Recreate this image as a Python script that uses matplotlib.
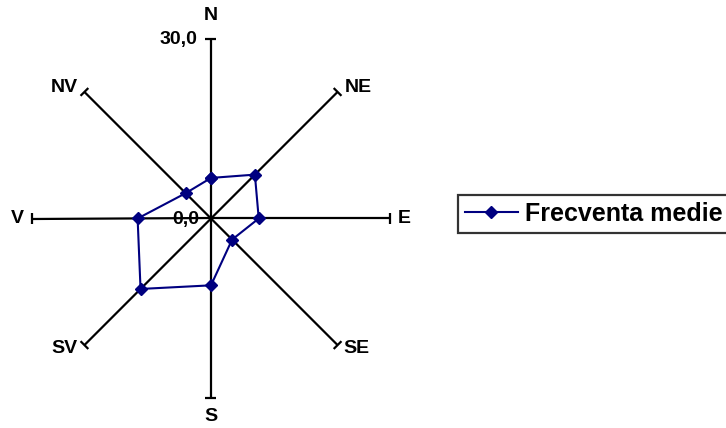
import numpy as np
import matplotlib.pyplot as plt

# directii si frecvente medii
directii = ['N', 'NE', 'E', 'SE', 'S', 'SV', 'V', 'NV']
frecventa = [6.8, 10.4, 8.0, 5.0, 11.2, 16.7, 12.3, 6.0]
rmax = 30.0
serie = 'Frecventa medie'

plt.rcParams['font.family'] = ['Liberation Sans', 'DejaVu Sans']

W, H = 726, 428
cx, cy = 211, 428 - 218.5          # centrul in pixeli
s = 179 / rmax                      # pixeli pe unitate

fig = plt.figure(figsize=(W / 100, H / 100), dpi=100)
ax = fig.add_axes([0, 0, 1, 1])
ax.set_xlim(-cx / s, (W - cx) / s)
ax.set_ylim(-cy / s, (H - cy) / s)
ax.axis('off')

unghi = np.deg2rad(90 - 45 * np.arange(len(directii)))
cap = 5.5 / s

# axele radiale cu capete
for a in unghi:
    ex, ey = rmax * np.cos(a), rmax * np.sin(a)
    ax.plot([0, ex], [0, ey], color='black', lw=1.6, solid_capstyle='butt')
    px, py = -np.sin(a) * cap, np.cos(a) * cap
    ax.plot([ex - px, ex + px], [ey - py, ey + py], color='black', lw=1.6,
            solid_capstyle='butt')

# etichete directii: (ha, dx, dy) in pixeli
pozitii = {
    'N': ('center', 0, 24), 'NE': ('left', 7, 4), 'E': ('left', 8, 0),
    'SE': ('left', 6, -3), 'S': ('center', 0, -19), 'SV': ('right', -7, -3),
    'V': ('right', -8, 0), 'NV': ('right', -7, 4),
}
for d, a in zip(directii, unghi):
    ha, dx, dy = pozitii[d]
    ax.annotate(d, (rmax * np.cos(a), rmax * np.sin(a)), xytext=(dx, dy),
                textcoords='offset pixels', ha=ha, va='center',
                fontsize=14, fontweight='bold')

ax.annotate('30,0', (0, rmax), xytext=(-14, 0), textcoords='offset pixels',
            ha='right', va='center', fontsize=14, fontweight='bold')
ax.annotate('0,0', (0, 0), xytext=(-12, -1), textcoords='offset pixels',
            ha='right', va='center', fontsize=14, fontweight='bold')

# seria
r = np.array(frecventa + frecventa[:1])
t = np.append(unghi, unghi[0])
ax.plot(r * np.cos(t), r * np.sin(t), color='#000080', lw=1.5,
        marker='D', markersize=6.5, label=serie)

leg = ax.legend(loc='center left', bbox_to_anchor=(458 / W, 214 / H),
                bbox_transform=fig.transFigure, frameon=True, fancybox=False,
                prop={'size': 18, 'weight': 'bold'}, borderpad=0.28,
                handlelength=2.1, handletextpad=0.3, borderaxespad=0)
leg.get_frame().set_edgecolor('black')
leg.get_frame().set_linewidth(1.6)

fig.savefig('out.png', dpi=100)
